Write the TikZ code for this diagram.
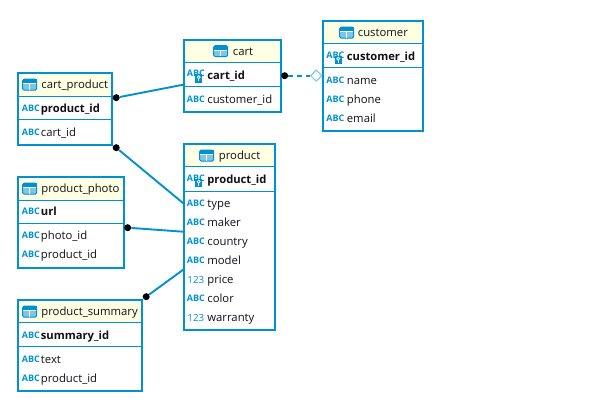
\documentclass[tikz,border=0pt]{standalone}
\usepackage{fontspec}
\setmainfont{Open Sans}
\usetikzlibrary{shapes.geometric}
\definecolor{erblue}{HTML}{0091D0}
\definecolor{erhead}{HTML}{FFFFE3}
\definecolor{ercell}{HTML}{7CC6E8}
\definecolor{ertext}{HTML}{101018}
\tikzset{
  tablebox/.style={draw=erblue,line width=2.2pt,inner sep=0pt,anchor=north west},
  seprule/.style={draw=erblue,line width=1pt},
  coltext/.style={anchor=base west,inner sep=0pt,text=ertext,font=\fontsize{11.3}{13}\selectfont},
  keytext/.style={coltext,font=\fontsize{11.2}{13}\selectfont\bfseries},
  abctext/.style={anchor=base west,inner sep=0pt,text=erblue,font=\fontsize{9}{9}\selectfont\bfseries},
  numtext/.style={anchor=base west,inner sep=0pt,text=erblue,font=\fontsize{9.8}{11}\selectfont},
  relline/.style={draw=erblue,line width=1.9pt},
  reldash/.style={draw=erblue,line width=1.9pt,dash pattern=on 5pt off 4pt},
  reldot/.style={circle,fill=black,draw=none,inner sep=0pt,minimum size=7pt},
  reldiamond/.style={diamond,draw=ercell,fill=white,line width=1pt,inner sep=0pt,minimum width=11.5pt,minimum height=11.5pt,aspect=1},
}
% name, x0,y0,x1,y1, sep1, sep2
\newcommand{\ertable}[7]{%
  \fill[erhead] (#2,#3) rectangle (#4,#6);
  \draw[seprule] (#2,#6) -- (#4,#6);
  \draw[seprule] (#2,#7) -- (#4,#7);
  \node[tablebox,minimum width={(#4-#2)*1pt},minimum height={(#5-#3)*1pt}] (#1) at (#2,#3) {};
}
% name, icon x, centre y, text x, text
\newcommand{\ertitle}[5]{%
  \fill[ercell,rounded corners=1.5pt] (#2,#3-5.5) rectangle +(14,11);
  \draw[erblue,line width=1pt,rounded corners=1.5pt] (#2,#3-5.5) rectangle +(14,11);
  \fill[erblue] (#2,#3-5.5) rectangle +(14,4);
  \draw[white,line width=.8pt] (#2+.6,#3-.9) -- +(12.8,0);
  \draw[white,line width=.8pt] (#2+7,#3-.9) -- +(0,5.9);
  \node[coltext] (#1) at (#4,#3+4.2) {#5};
}
\newcommand{\abcicon}[3]{\node[abctext] (#1) at (#2,#3+3.2) {ABC};}
\newcommand{\numicon}[3]{\node[numtext] (#1) at (#2,#3+3.6) {123};}
\newcommand{\keyicon}[3]{%
  \node[abctext] (#1) at (#2,#3+1.5) {ABC};
  \fill[erblue] (#2+8.5,#3-1) rectangle +(7,8.5);
  \draw[white,line width=.8pt] (#2+12,#3+2) circle (1.5);
  \draw[white,line width=.8pt] (#2+12,#3+3.5) -- +(0,2.5);
}
\begin{document}
\begin{tikzpicture}[x=1pt,y=-1pt]
\useasboundingbox (0,0) rectangle (608,412);
\fill[white] (0,0) rectangle (608,412);
\begin{scope}[shift={(-0.8,-0.8)}]
% tables
\ertable{cart}{184}{40}{281}{112}{63.5}{87}
\ertable{customer}{323}{21}{423}{131}{44}{68}
\ertable{cartproduct}{18}{73}{112}{145}{97}{120.5}
\ertable{product}{184}{144}{275}{330}{167}{192}
\ertable{productphoto}{18}{177}{124}{268}{201}{224}
\ertable{productsummary}{18}{300}{142}{391}{323}{347}
% cart
\ertitle{cartT}{214.5}{52}{233.5}{cart}
\keyicon{cartIa}{187.5}{76}
\node[keytext] (cartA) at (208,80) {cart\_id};
\abcicon{cartIb}{187.5}{100}
\node[coltext] (cartB) at (208,104) {customer\_id};
% customer
\ertitle{customerT}{340.5}{33.5}{358.5}{customer}
\keyicon{customerIa}{327}{57.5}
\node[keytext] (customerA) at (347.5,61.7) {customer\_id};
\abcicon{customerIb}{327}{81}
\node[coltext] (customerB) at (347.5,85) {name};
\abcicon{customerIc}{327}{100}
\node[coltext] (customerC) at (347.5,104) {phone};
\abcicon{customerId}{327}{119}
\node[coltext] (customerD) at (347.5,123) {email};
% cart_product
\ertitle{cartproductT}{23.5}{85.5}{42}{cart\_product}
\abcicon{cpIa}{22.5}{109.5}
\node[keytext] (cpA) at (41.5,113.7) {product\_id};
\abcicon{cpIb}{22.5}{133}
\node[coltext] (cpB) at (41.5,137) {cart\_id};
% product
\ertitle{productT}{200.5}{156.5}{219.5}{product}
\keyicon{prIa}{187.5}{180.5}
\node[keytext] (prA) at (208,184.7) {product\_id};
\abcicon{prIb}{187.5}{204.5}
\node[coltext] (prB) at (208,208.7) {type};
\abcicon{prIc}{187.5}{223.5}
\node[coltext] (prC) at (208,227.7) {maker};
\abcicon{prId}{187.5}{242.5}
\node[coltext] (prD) at (208,246.7) {country};
\abcicon{prIe}{187.5}{261.5}
\node[coltext] (prE) at (208,265.7) {model};
\numicon{prIf}{188}{280.5}
\node[coltext] (prF) at (208,284.7) {price};
\abcicon{prIg}{187.5}{299.5}
\node[coltext] (prG) at (208,303.7) {color};
\numicon{prIh}{188}{318.5}
\node[coltext] (prH) at (208,322.7) {warranty};
% product_photo
\ertitle{productphotoT}{23.5}{189.5}{42}{product\_photo}
\abcicon{ppIa}{22.5}{212.5}
\node[keytext] (ppA) at (41.5,216.7) {url};
\abcicon{ppIb}{22.5}{236.5}
\node[coltext] (ppB) at (41.5,240.7) {photo\_id};
\abcicon{ppIc}{22.5}{255.5}
\node[coltext] (ppC) at (41.5,259.7) {product\_id};
% product_summary
\ertitle{productsummaryT}{23.5}{312.5}{42}{product\_summary}
\abcicon{psIa}{22.5}{336.5}
\node[keytext] (psA) at (41.5,340.7) {summary\_id};
\abcicon{psIb}{22.5}{360.5}
\node[coltext] (psB) at (41.5,364.7) {text};
\abcicon{psIc}{22.5}{379.5}
\node[coltext] (psC) at (41.5,383.7) {product\_id};
% connectors
\node[reldot] (d1) at (117,98.5) {};
\node[reldot] (d2) at (117,148.5) {};
\node[reldot] (d3) at (128.5,228.5) {};
\node[reldot] (d4) at (147,297.5) {};
\node[reldot] (d5) at (285.5,76.5) {};
\node[reldiamond] (dm) at (317,76.5) {};
\coordinate (c1) at (cart.west |- 0,85.5);
\coordinate (c2) at (product.west |- 0,204);
\coordinate (c3) at (product.west |- 0,232.5);
\coordinate (c4) at (product.west |- 0,270.5);
\draw[relline] (d1) -- (c1);
\draw[relline] (d2) -- (c2);
\draw[relline] (d3) -- (c3);
\draw[relline] (d4) -- (c4);
\draw[reldash] (d5) -- (dm);
\end{scope}
\end{tikzpicture}
\end{document}
